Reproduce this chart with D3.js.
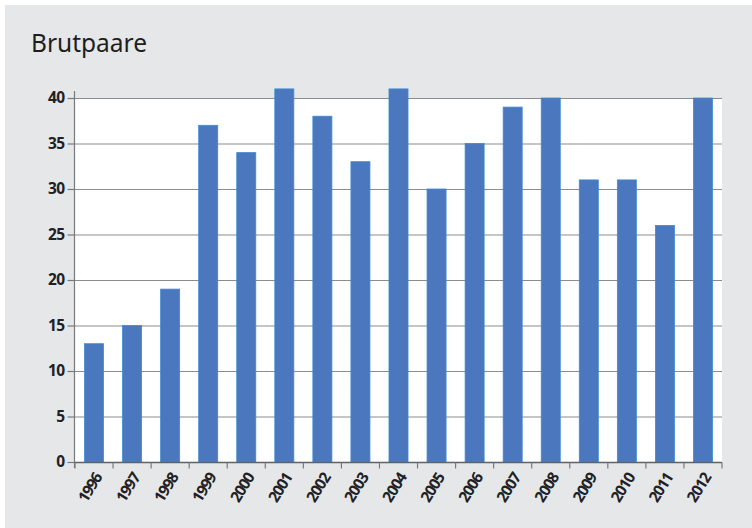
<!DOCTYPE html>
<html>
<head>
<meta charset="utf-8">
<script src="https://cdn.jsdelivr.net/npm/d3@7"></script>
<style>
  html, body { margin: 0; padding: 0; background: #ffffff; }
  svg { display: block; }
</style>
</head>
<body>
<div id="chart"></div>
<script>
// data
var years = ["1996", "1997", "1998", "1999", "2000", "2001", "2002", "2003", "2004",
             "2005", "2006", "2007", "2008", "2009", "2010", "2011", "2012"];
var pairs = [13, 15, 19, 37, 34, 41, 38, 33, 41, 30, 35, 39, 40, 31, 31, 26, 40];
var yTicks = [0, 5, 10, 15, 20, 25, 30, 35, 40];
var title = "Brutpaare";

var W = 752, H = 528;
var margin = { top: 98, bottom: 66, left: 75, right: 30 };
var width = W - margin.left - margin.right;
var height = H - margin.top - margin.bottom;

var svg = d3.select("#chart").append("svg")
    .attr("width", W)
    .attr("height", H);

// grey panel
svg.append("rect")
    .attr("x", 5).attr("y", 5)
    .attr("width", W - 5).attr("height", H - 5)
    .attr("fill", "#e6e7e9");

svg.append("text")
    .attr("x", 31).attr("y", 52)
    .attr("font-family", "Noto Sans")
    .attr("font-size", 24.5)
    .attr("fill", "#1e1e1e")
    .text(title);

var xScale = d3.scaleBand().domain(years).range([0, width]).paddingInner(0.5).paddingOuter(0.25);
var yScale = d3.scaleLinear().domain([0, 40]).range([height, 0]);

var g = svg.append("g")
    .attr("transform", "translate(" + margin.left + "," + margin.top + ")");

// plot area
g.append("rect")
    .attr("x", 0).attr("y", 0)
    .attr("width", width).attr("height", height)
    .attr("fill", "#ffffff");

// gridlines
g.append("g").selectAll("line").data(yTicks.slice(1)).enter().append("line")
    .attr("x1", 0).attr("x2", width)
    .attr("y1", function (d) { return yScale(d) + 0.5; })
    .attr("y2", function (d) { return yScale(d) + 0.5; })
    .attr("stroke", "#8a8c8e")
    .attr("stroke-width", 1.2);

// bars
g.append("g").selectAll("rect").data(years).enter().append("rect")
    .attr("x", function (d) { return xScale(d); })
    .attr("y", function (d, i) { return yScale(pairs[i]); })
    .attr("width", xScale.bandwidth())
    .attr("height", function (d, i) { return height - yScale(pairs[i]); })
    .attr("fill", "#4a77bd")
    .attr("stroke", "#3f8ad3")
    .attr("stroke-width", 0.8);

// y axis
var yAxis = g.append("g")
    .attr("transform", "translate(-0.5,0)")
    .call(d3.axisLeft(yScale).tickValues(yTicks).tickSize(7).tickPadding(3));
yAxis.select(".domain").remove();
yAxis.append("line")
    .attr("x1", 0).attr("x2", 0)
    .attr("y1", -7).attr("y2", height + 6)
    .attr("stroke", "#777a7d").attr("stroke-width", 1.2);
yAxis.selectAll(".tick line").attr("stroke", "#777a7d").attr("stroke-width", 1.2);
yAxis.selectAll("text")
    .attr("font-family", "Open Sans")
    .attr("font-weight", 700)
    .attr("font-size", 15.5)
    .attr("letter-spacing", -0.6)
    .attr("fill", "#202124");

// x axis with ticks on band edges
var xAxis = g.append("g")
    .attr("transform", "translate(0," + (height + 0.5) + ")");
xAxis.append("line")
    .attr("x1", 0).attr("x2", width)
    .attr("stroke", "#5f6266").attr("stroke-width", 1.5);
var edges = years.map(function (d) { return xScale(d) - xScale.step() * xScale.paddingInner() / 2; });
edges.push(width);
xAxis.selectAll(".edge").data(edges).enter().append("line")
    .attr("class", "edge")
    .attr("x1", function (d) { return d; }).attr("x2", function (d) { return d; })
    .attr("y1", 0).attr("y2", 6)
    .attr("stroke", "#777a7d").attr("stroke-width", 1.2);
xAxis.selectAll("text").data(years).enter().append("text")
    .attr("transform", function (d) {
        return "translate(" + (xScale(d) + xScale.bandwidth() / 2 + 4) + ",12) rotate(-58)";
    })
    .attr("text-anchor", "end")
    .attr("dy", "0.35em")
    .attr("font-family", "Open Sans")
    .attr("font-weight", 700)
    .attr("font-size", 15.5)
    .attr("letter-spacing", -1.2)
    .attr("fill", "#202124")
    .text(function (d) { return d; });
</script>
</body>
</html>
